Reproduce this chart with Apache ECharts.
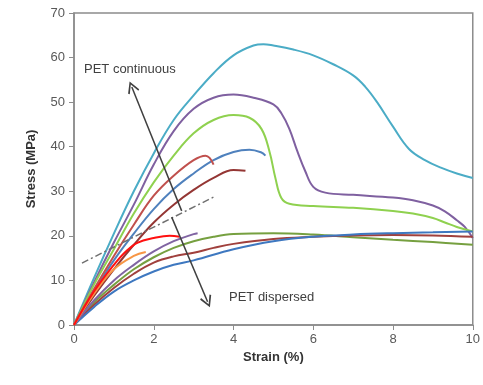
<!DOCTYPE html>
<html><head><meta charset="utf-8">
<script src="https://cdn.jsdelivr.net/npm/echarts@6/dist/echarts.min.js"></script>
<style>html,body{margin:0;padding:0;background:#fff}#c{width:483px;height:385px}</style>
</head><body><div id="c"></div>
<script>
// stress-strain curves: [strain %, stress MPa]
const cyanCurve = [[0,0],[0.5,10.5],[1,20.5],[1.5,30],[2,38.5],[2.5,46],[3,51.5],[3.5,56.5],[4,60.5],[4.5,62.7],[4.75,63],[5,62.7],[5.5,61.8],[6,60.5],[6.5,58.5],[7,56],[7.3,53.5],[7.6,50],[8,44.5],[8.4,39.5],[8.8,37],[9.2,35.3],[9.6,34],[10,33]];
const purpleCurve = [[0,0],[0.5,9.5],[1,18.5],[1.5,27],[2,36],[2.5,43.5],[3,48.5],[3.5,51],[4,51.7],[4.5,51],[5,49.5],[5.2,47.5],[5.4,44],[5.6,39],[5.8,34.5],[6,31],[6.3,29.7],[7,29.2],[8,28.6],[8.5,28],[9,26.8],[9.3,25.5],[9.6,23.5],[9.8,22],[10,19.5]];
const greenCurve = [[0,0],[0.5,9],[1,17],[1.5,25],[2,32],[2.5,38],[3,43],[3.5,46],[4,47.1],[4.4,46.5],[4.7,44],[4.9,39],[5.05,33],[5.2,28.5],[5.4,27.2],[6,26.7],[7,26.3],[8,25.6],[8.5,25],[9,24],[9.3,23],[9.6,22],[10,21]];
const blueCurve = [[0,0],[0.5,7.5],[1,14.5],[1.5,20.5],[2,26],[2.5,30.5],[3,34],[3.5,37],[4,38.8],[4.4,39.3],[4.7,38.7],[4.8,38]];
const redCurve = [[0,0],[0.5,8],[1,15.5],[1.5,22.5],[2,29],[2.5,33.5],[3,37],[3.3,38],[3.4,37.5],[3.5,36]];
const darkRedCurve = [[0,0],[0.5,6.5],[1,12.5],[1.5,18],[2,23],[2.5,27],[3,30.3],[3.5,33],[4,34.8],[4.3,34.6]];
const brightRedCurve = [[0,0],[0.5,7.5],[1,13.5],[1.3,16.5],[1.6,18.5],[2,19.5],[2.4,20],[2.65,19.8]];
const orangeCurve = [[0,0],[0.5,7],[1,12.5],[1.5,15.5],[1.8,16.4]];
const purpleShortCurve = [[0,0],[0.5,5.5],[1,10],[1.5,13.5],[2,16.5],[2.5,18.8],[3,20.4],[3.1,20.6]];
const greenLowCurve = [[0,0],[0.5,5],[1,9],[1.5,12.5],[2,15.2],[2.5,17.3],[3,18.8],[3.5,19.8],[4,20.4],[5,20.6],[6,20.3],[7,19.7],[8,19.1],[9,18.6],[10,18]];
const darkRedLowCurve = [[0,0],[0.5,4.5],[1,8.3],[1.5,11.5],[2,14],[2.5,15.4],[3,16.2],[3.5,17.3],[4,18.2],[5,19.3],[6,19.8],[7,20.1],[8,20.2],[9,20.1],[10,19.8]];
const blueLowCurve = [[0,0],[0.5,4],[1,7.5],[1.5,10],[2,12],[2.5,13.5],[3,14.5],[4,17],[5,18.8],[6,19.8],[7,20.3],[8,20.6],[9,20.8],[10,21]];
const dashDotLine = [[0.2,13.9],[3.5,28.7]];
const arrowUp = [[2.7,25.6],[1.45,53.4]];
const arrowDown = [[2.45,24.2],[3.35,5.2]];
const xTicks = [0,2,4,6,8,10];
const yTicks = [0,10,20,30,40,50,60,70];

const curves = [
  [cyanCurve,'#4bacc6'],[purpleCurve,'#7f60a0'],[greenCurve,'#8fd14f'],
  [blueCurve,'#4f81bd'],[redCurve,'#c0504d'],[darkRedCurve,'#943634'],
  [greenLowCurve,'#76a040'],[darkRedLowCurve,'#a0403d'],[blueLowCurve,'#3e78c0'],
  [purpleShortCurve,'#8064a2'],[orangeCurve,'#f79646'],[brightRedCurve,'#ff1010']
];
const arrowHead = 'path://M0,0 L6,10 L4.6,11 L0,3 L-4.6,11 L-6,10 Z';

const series = curves.map(([d,c]) => ({
  type:'line', data:d, smooth:0.4, showSymbol:false, symbol:'none',
  lineStyle:{color:c,width:2}, z:3
}));
series.push({type:'line', data:dashDotLine, showSymbol:false, symbol:'none',
  lineStyle:{color:'#707070',width:1.5,type:[7,3,2,3]}, z:4});
[arrowUp, arrowDown].forEach(a => series.push({
  type:'line', data:[], color:'#404040',
  markLine:{silent:true, symbol:['none',arrowHead], symbolSize:12,
    itemStyle:{color:'#404040'},
    lineStyle:{color:'#404040',width:1.5,type:'solid'}, label:{show:false},
    data:[[{coord:a[0]},{coord:a[1]}]]}, z:5
}));

const chart = echarts.init(document.getElementById('c'));
chart.setOption({
  animation:false,
  grid:{left:74,right:8,top:13,bottom:60,show:true,borderColor:'#8c8c8c',borderWidth:1.5},
  xAxis:{type:'value',min:xTicks[0],max:xTicks[xTicks.length-1],interval:2,
    name:'Strain (%)',nameLocation:'middle',nameGap:23,
    nameTextStyle:{fontFamily:'Liberation Sans',fontWeight:'bold',fontSize:13,color:'#333'},
    axisLine:{lineStyle:{color:'#8c8c8c',width:1.5}},axisTick:{inside:false,length:5,lineStyle:{color:'#8c8c8c'}},
    axisLabel:{fontFamily:'Liberation Sans',fontSize:13,color:'#595959',margin:8},splitLine:{show:false}},
  yAxis:{type:'value',min:yTicks[0],max:yTicks[yTicks.length-1],interval:10,
    name:'Stress (MPa)',nameLocation:'middle',nameGap:36,
    nameTextStyle:{fontFamily:'Liberation Sans',fontWeight:'bold',fontSize:13,color:'#333'},
    axisLine:{show:true,lineStyle:{color:'#8c8c8c',width:1.5}},axisTick:{show:true,length:5,lineStyle:{color:'#8c8c8c'}},
    axisLabel:{fontFamily:'Liberation Sans',fontSize:13,color:'#595959',margin:9},splitLine:{show:false}},
  graphic:[
    {type:'text',left:84,top:63,style:{text:'PET continuous',font:'13px Liberation Sans',fill:'#404040'}},
    {type:'text',left:229,top:291,style:{text:'PET dispersed',font:'13px Liberation Sans',fill:'#404040'}}
  ],
  series
});
</script></body></html>
